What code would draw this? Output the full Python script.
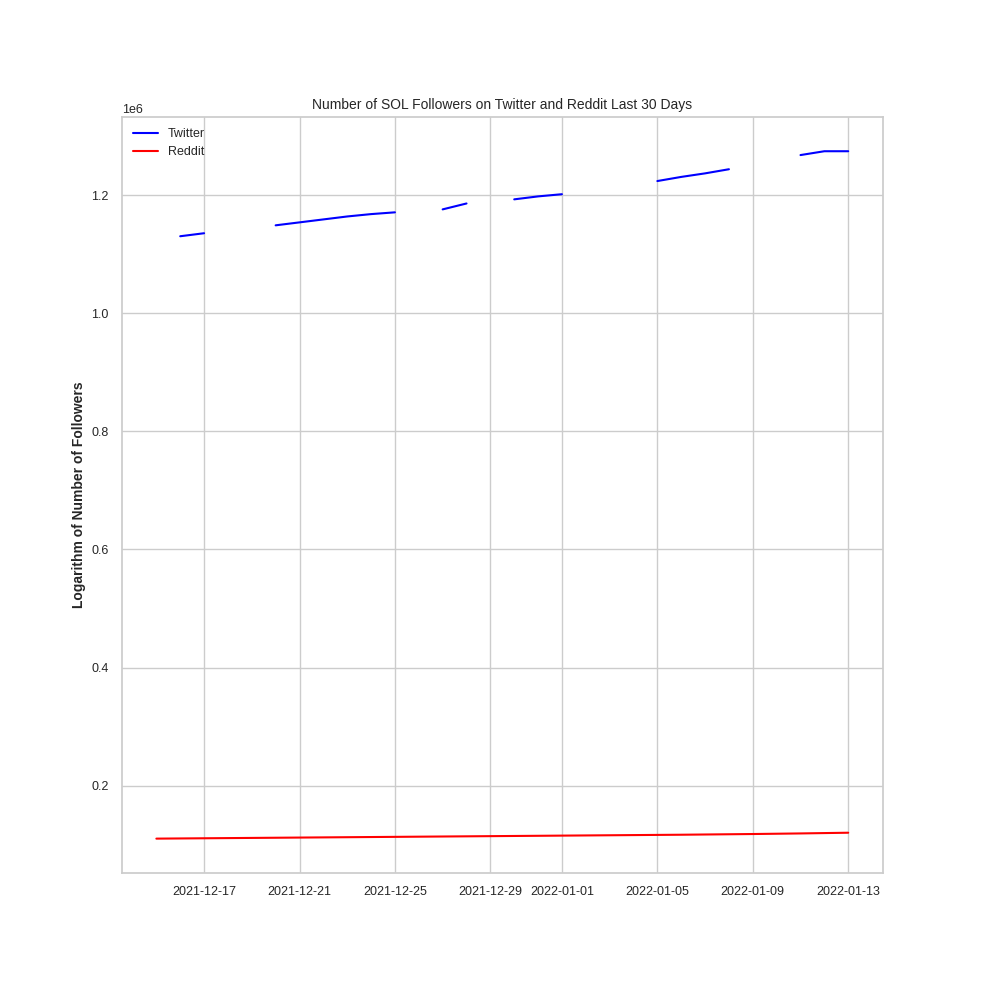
import numpy as np, pandas as pd, seaborn as sns, matplotlib
matplotlib.use("Agg")
import matplotlib.pyplot as plt

dates = pd.date_range("2021-12-15", "2022-01-13", freq="D")
nan = np.nan
twitter = [nan, 1.1305e6, 1.1356e6, nan, nan, 1.149e6, 1.154e6, 1.159e6, 1.164e6, 1.168e6, 1.171e6,
           nan, 1.176e6, 1.186e6, nan, 1.193e6, 1.198e6, 1.2017e6, nan, nan, nan,
           1.224e6, 1.231e6, 1.237e6, 1.244e6, nan, nan, 1.268e6, 1.2745e6, 1.2745e6]
reddit = [110200, 110500, 110800, 111100, 111400, 111700, 112000, 112300, 112600, 112900,
          113200, 113500, 113800, 114100, 114400, 114700, 115000, 115300, 115600, 115900,
          116200, 116500, 116800, 117200, 117600, 118000, 118500, 119000, 119600, 120200]

df = pd.DataFrame({"date": dates, "Twitter": twitter, "Reddit": reddit})
sns.set_theme(style="whitegrid")
plt.rcParams['font.family'] = ['Liberation Sans', 'DejaVu Sans']
fig, ax = plt.subplots(figsize=(9.82, 9.82), dpi=100)
fig.subplots_adjust(left=0.124, right=0.899, top=0.881, bottom=0.111)
ax.plot(df["date"], df["Twitter"], color="blue", label="Twitter")
ax.plot(df["date"], df["Reddit"], color="red", label="Reddit")
ax.set_title("Number of SOL Followers on Twitter and Reddit Last 30 Days", fontsize=10)
ax.set_ylabel("Logarithm of Number of Followers", fontweight="bold", fontsize=10)
ax.set_xticks(pd.to_datetime(["2021-12-17","2021-12-21","2021-12-25","2021-12-29",
                              "2022-01-01","2022-01-05","2022-01-09","2022-01-13"]))
ax.xaxis.set_major_formatter(matplotlib.dates.DateFormatter("%Y-%m-%d"))
ax.tick_params(labelsize=9)
ax.yaxis.get_offset_text().set_fontsize(9)
ax.legend(loc="upper left", frameon=False, fontsize=9)
fig.savefig("out.png", dpi=100)
